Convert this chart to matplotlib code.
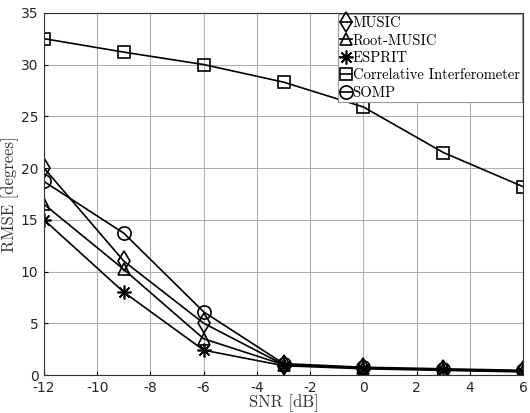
import numpy as np
import matplotlib.pyplot as plt

plt.rcParams['axes.unicode_minus'] = False

snr = [-12, -9, -6, -3, 0, 3, 6]
music = [20.0, 11.0, 5.0, 1.0, 0.7, 0.5, 0.4]
root_music = [16.5, 10.2, 3.5, 1.0, 0.7, 0.5, 0.35]
esprit = [15.0, 8.0, 2.4, 0.9, 0.6, 0.45, 0.3]
corr_interf = [32.5, 31.2, 30.0, 28.3, 25.9, 21.5, 18.2]
somp = [18.7, 13.7, 6.1, 1.1, 0.75, 0.6, 0.45]

series = [
    (music, 'd', 'MUSIC'),
    (root_music, '^', 'Root-MUSIC'),
    (esprit, (8, 2, 0), 'ESPRIT'),
    (corr_interf, 's', 'Correlative Interferometer'),
    (somp, 'o', 'SOMP'),
]

fig = plt.figure(figsize=(5.3, 4.13), dpi=100)
ax = fig.add_axes([0.083, 0.092, 0.904, 0.877])

for vals, mk, lab in series:
    ms = {'d': 10, '^': 9, 's': 8, 'o': 9.5}.get(mk, 10)
    ax.plot(snr, vals, color='k', lw=1.2, marker=mk, markersize=ms,
            markerfacecolor='none', markeredgecolor='k', markeredgewidth=1.2,
            label=lab)

ax.set_xlim(-12, 6)
ax.set_ylim(0, 35)
ax.set_xticks(np.arange(-12, 7, 2))
ax.set_yticks(np.arange(0, 36, 5))
ax.grid(True, color='#b0b0b0', lw=0.8)
ax.tick_params(direction='in', labelsize=10, length=3, labelcolor='#262626')
ax.tick_params(axis='x', pad=4)
ax.tick_params(axis='y', pad=4)
for lab in ax.get_xticklabels() + ax.get_yticklabels():
    lab.set_family('DejaVu Sans')
for sp in ax.spines.values():
    sp.set_color('#333333')

ax.set_xlabel('SNR [dB]', family='cmr10', fontsize=12, color='#333333', labelpad=0)
ax.set_ylabel('RMSE [degrees]', family='cmr10', fontsize=12, color='#333333', labelpad=1)

leg = ax.legend(loc='upper right', prop={'family': 'cmr10', 'size': 10.5},
                handlelength=0.8, handletextpad=0.05, borderpad=0.15,
                labelspacing=0.25, fancybox=False, framealpha=1,
                edgecolor='#999999', borderaxespad=0.1)
leg.get_frame().set_linewidth(0.8)

fig.savefig('out.png', dpi=100)
